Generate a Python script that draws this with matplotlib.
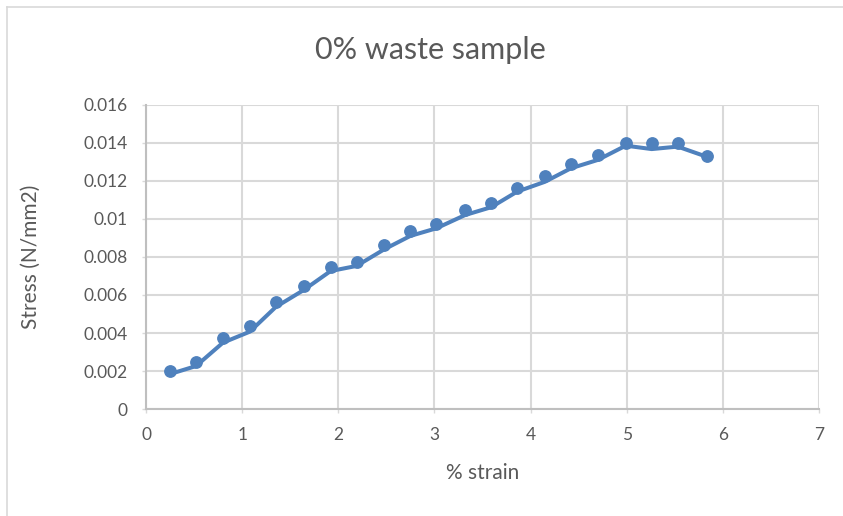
import matplotlib
matplotlib.use("Agg")
import matplotlib.pyplot as plt
from matplotlib.lines import Line2D

# Data
strain = [0.25, 0.52, 0.80, 1.08, 1.35, 1.64, 1.92, 2.19, 2.48, 2.75, 3.02,
          3.32, 3.59, 3.86, 4.15, 4.42, 4.70, 4.99, 5.26, 5.53, 5.83]
stress_points = [0.00202, 0.00249, 0.00375, 0.00437, 0.00562, 0.00647, 0.00747,
                 0.00774, 0.00863, 0.00937, 0.00974, 0.01047, 0.01084, 0.01163,
                 0.01226, 0.01288, 0.01337, 0.01398, 0.01398, 0.01398, 0.01333]
stress_line = [0.00184, 0.00226, 0.00349, 0.00407, 0.00537, 0.00626, 0.00726,
               0.00753, 0.00841, 0.00911, 0.00951, 0.01021, 0.01062, 0.01144,
               0.01196, 0.01267, 0.01311, 0.01386, 0.01368, 0.01381, 0.01328]
x_ticks = [0, 1, 2, 3, 4, 5, 6, 7]
y_ticks = [0, 0.002, 0.004, 0.006, 0.008, 0.01, 0.012, 0.014, 0.016]
y_tick_labels = ["0", "0.002", "0.004", "0.006", "0.008", "0.01", "0.012", "0.014", "0.016"]

plt.rcParams['font.family'] = ['Lato', 'DejaVu Sans']
text_color = '#595959'
blue = '#4F81BD'
grid_color = '#D9D9D9'

fig = plt.figure(figsize=(8.43, 5.16), dpi=100)
ax = fig.add_axes([146/843, 1-409/516, (819-146)/843, (409-105)/516])

ax.plot(strain, stress_line, color=blue, lw=2.9, solid_joinstyle='round', zorder=3)
ax.plot(strain, stress_points, ls='none', marker='o', ms=8.2, color=blue, zorder=4)

ax.set_xlim(0, 7)
ax.set_ylim(0, 0.016)
ax.set_xticks(x_ticks)
ax.set_yticks(y_ticks)
ax.set_yticklabels(y_tick_labels)

ax.grid(True, color=grid_color, lw=1.5, zorder=0)
ax.set_axisbelow(True)
for s in ['top', 'right']:
    ax.spines[s].set_visible(False)
for s in ['left', 'bottom']:
    ax.spines[s].set_color('#BFBFBF')
    ax.spines[s].set_linewidth(1.5)

ax.tick_params(axis='both', colors='#D9D9D9', labelcolor=text_color, labelsize=12.5,
               length=3, width=1.0, direction='out')
ax.tick_params(axis='x', pad=10)
ax.tick_params(axis='y', pad=10)

ax.set_xlabel('% strain', fontsize=15, color=text_color)
ax.set_ylabel('Stress (N/mm2)', fontsize=15, color=text_color)
ax.yaxis.set_label_coords(-(146-31)/673, 0.5)
ax.xaxis.set_label_coords(0.5, -(473-409)/304)
ax.xaxis.label.set_va('center')
ax.yaxis.label.set_va('center')
fig.text(430/843, 1-50/516, '0% waste sample', ha='center', va='center',
         fontsize=22, color=text_color)

# chart border (left and top edges visible)
fig.add_artist(Line2D([6.5/843, 6.5/843], [0, 1-7/516], transform=fig.transFigure,
                      color='#D9D9D9', lw=1.2))
fig.add_artist(Line2D([6.5/843, 1], [1-7/516, 1-7/516], transform=fig.transFigure,
                      color='#D9D9D9', lw=1.2))

fig.savefig('out.png', dpi=100)
